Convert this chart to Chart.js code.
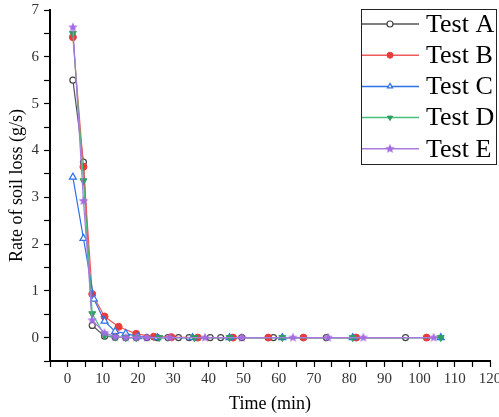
<!DOCTYPE html>
<html>
<head>
<meta charset="utf-8">
<script src="https://cdn.jsdelivr.net/npm/chart.js@4/dist/chart.umd.min.js"></script>
<style>
  html, body { margin: 0; padding: 0; background: #fff; overflow: hidden; }
</style>
</head>
<body>
<canvas id="loss-chart" width="499" height="417"></canvas>
<script>
// time (min) and rate of soil loss (g/s) per test
const timeA = [1.5, 4.5, 7, 10.5, 13.5, 16.5, 19.5, 22.5, 25.5, 28.5, 31.5, 34.5, 40.5, 43.5, 49.5, 58.5, 73.5, 96];
const lossA = [5.5, 3.75, 0.26, 0.03, 0.01, 0, 0, 0, 0, 0, 0, 0, 0, 0, 0, 0, 0, 0];

const timeB = [1.5, 4.5, 7, 10.5, 14.5, 19.5, 24.5, 29.5, 37, 47, 57, 67, 82, 102];
const lossB = [6.42, 3.65, 0.93, 0.45, 0.23, 0.08, 0.02, 0.01, 0, 0, 0, 0, 0, 0];

const timeC = [1.5, 4.5, 7.5, 10.5, 13.5, 16.5, 20, 25.5, 35.5, 46, 61, 81, 106];
const lossC = [3.43, 2.12, 0.82, 0.35, 0.13, 0.09, 0.02, 0, 0, 0, 0, 0, 0];

const timeD = [1.5, 4.5, 7, 10.5, 13.5, 16.5, 19.5, 26, 36, 46, 61, 81, 106];
const lossD = [6.5, 3.35, 0.51, 0.05, 0.01, 0, 0, 0, 0, 0, 0, 0, 0];

const timeE = [1.5, 4.5, 7, 10.5, 13.5, 16.5, 19.5, 22.5, 29, 39, 49.5, 64, 74, 84, 104];
const lossE = [6.63, 2.92, 0.37, 0.1, 0.02, 0, 0, 0, 0, 0, 0, 0, 0, 0, 0];

const seriesNames = ["Test A", "Test B", "Test C", "Test D", "Test E"];

const serif = "'Liberation Serif', 'Times New Roman', serif";

function toPoints(xs, ys) {
    return xs.map((x, i) => ({ x: x, y: ys[i] }));
}

// filled star marker for Test E
function makeStar(color, r) {
    const c = document.createElement("canvas");
    c.width = c.height = r * 2 + 2;
    const g = c.getContext("2d");
    g.fillStyle = color;
    g.beginPath();
    for (let i = 0; i < 10; i++) {
        const ang = -Math.PI / 2 + i * Math.PI / 5;
        const rr = i % 2 === 0 ? r : r * 0.45;
        g.lineTo(r + 1 + rr * Math.cos(ang), r + 1 + rr * Math.sin(ang));
    }
    g.closePath();
    g.fill();
    return c;
}
const starE = makeStar("#a46be2", 5);

const datasets = [
    {
        label: seriesNames[0], data: toPoints(timeA, lossA),
        borderColor: "#555555", backgroundColor: "#ffffff",
        pointBorderColor: "#444444", pointBackgroundColor: "#ffffff",
        pointStyle: "circle", pointRadius: 3, pointBorderWidth: 1.2, order: 5
    },
    {
        label: seriesNames[1], data: toPoints(timeB, lossB),
        borderColor: "#f05a5a", backgroundColor: "#e83c3c",
        pointBorderColor: "#e83c3c", pointBackgroundColor: "#e83c3c",
        pointStyle: "circle", pointRadius: 3.5, pointBorderWidth: 1, order: 4
    },
    {
        label: seriesNames[2], data: toPoints(timeC, lossC),
        borderColor: "#2d72e6", backgroundColor: "#ffffff",
        pointBorderColor: "#2d72e6", pointBackgroundColor: "#ffffff",
        pointStyle: "triangle", pointRadius: 4, pointBorderWidth: 1.2, order: 3
    },
    {
        label: seriesNames[3], data: toPoints(timeD, lossD),
        borderColor: "#48c07c", backgroundColor: "#2e9e5e",
        pointBorderColor: "#2e9e5e", pointBackgroundColor: "#2e9e5e",
        pointStyle: "triangle", pointRotation: 180, pointRadius: 4, pointBorderWidth: 1, order: 2
    },
    {
        label: seriesNames[4], data: toPoints(timeE, lossE),
        borderColor: "#a77be0", backgroundColor: "#a46be2",
        pointBorderColor: "#a46be2", pointBackgroundColor: "#a46be2",
        pointStyle: starE, pointRadius: 5, pointBorderWidth: 0, order: 1
    }
];
datasets.forEach(d => { d.borderWidth = 1.2; d.tension = 0; d.fill = false; });

// legend box with line + marker, drawn on the canvas
const boxLegend = {
    id: "boxLegend",
    afterDraw(chart) {
        const ctx = chart.ctx;
        const left = 361, top = 9, w = 135, h = 155, rowH = 31.2;
        ctx.save();
        ctx.strokeStyle = "#222";
        ctx.lineWidth = 1;
        ctx.strokeRect(left + 0.5, top + 0.5, w, h);
        ctx.font = "26px " + serif;
        ctx.textBaseline = "middle";
        ctx.textAlign = "left";
        chart.data.datasets.forEach((ds, i) => {
            const y = top + 15 + i * rowH;
            ctx.strokeStyle = ds.borderColor;
            ctx.lineWidth = 1.5;
            ctx.beginPath();
            ctx.moveTo(left + 1, y);
            ctx.lineTo(left + 58, y);
            ctx.stroke();
            ctx.fillStyle = ds.pointBackgroundColor;
            ctx.strokeStyle = ds.pointBorderColor;
            ctx.lineWidth = ds.pointBorderWidth || 1;
            Chart.helpers.drawPoint(ctx, {
                pointStyle: ds.pointStyle,
                rotation: ds.pointRotation || 0,
                radius: ds.pointStyle === starE ? 5 : 3,
                borderWidth: ds.pointBorderWidth
            }, left + 29, y);
            ctx.fillStyle = "#000";
            ctx.fillText(ds.label, left + 65, y + 1);
        });
        ctx.restore();
    }
};

const lossChart = new Chart(document.getElementById("loss-chart"), {
    type: "line",
    data: { datasets: datasets },
    options: {
        responsive: false,
        animation: false,
        layout: { padding: { left: 0, right: 9, top: 10, bottom: 0 } },
        scales: {
            x: {
                type: "linear",
                min: -5,
                max: 120,
                border: { color: "#000", width: 2 },
                grid: { drawOnChartArea: false, tickLength: 6, color: "#000", tickWidth: 1.2 },
                ticks: {
                    stepSize: 5,
                    autoSkip: false,
                    maxRotation: 0,
                    padding: 3,
                    color: "#333",
                    font: { family: serif, size: 15 },
                    callback: v => (v % 10 === 0 ? v : "")
                },
                title: {
                    display: true, text: "Time (min)", color: "#000",
                    font: { family: serif, size: 18 },
                    padding: { top: 0, bottom: 2 }
                },
                afterFit: s => { s.height = 56; s.paddingLeft = 0; s.paddingRight = 0; }
            },
            y: {
                min: -0.5,
                max: 7,
                border: { color: "#000", width: 2 },
                grid: { drawOnChartArea: false, tickLength: 6, color: "#000", tickWidth: 1.2 },
                ticks: {
                    stepSize: 0.5,
                    autoSkip: false,
                    padding: 5,
                    color: "#333",
                    font: { family: serif, size: 15 },
                    callback: v => (Number.isInteger(v) && v >= 0 ? v : "")
                },
                title: {
                    display: true, text: "Rate of soil loss (g/s)", color: "#000",
                    font: { family: serif, size: 18 },
                    padding: { top: 6, bottom: 0 }
                },
                afterFit: s => { s.width = 50; s.paddingTop = 0; s.paddingBottom = 0; }
            }
        },
        plugins: {
            legend: { display: false },
            tooltip: { enabled: false }
        }
    },
    plugins: [boxLegend]
});
</script>
</body>
</html>
